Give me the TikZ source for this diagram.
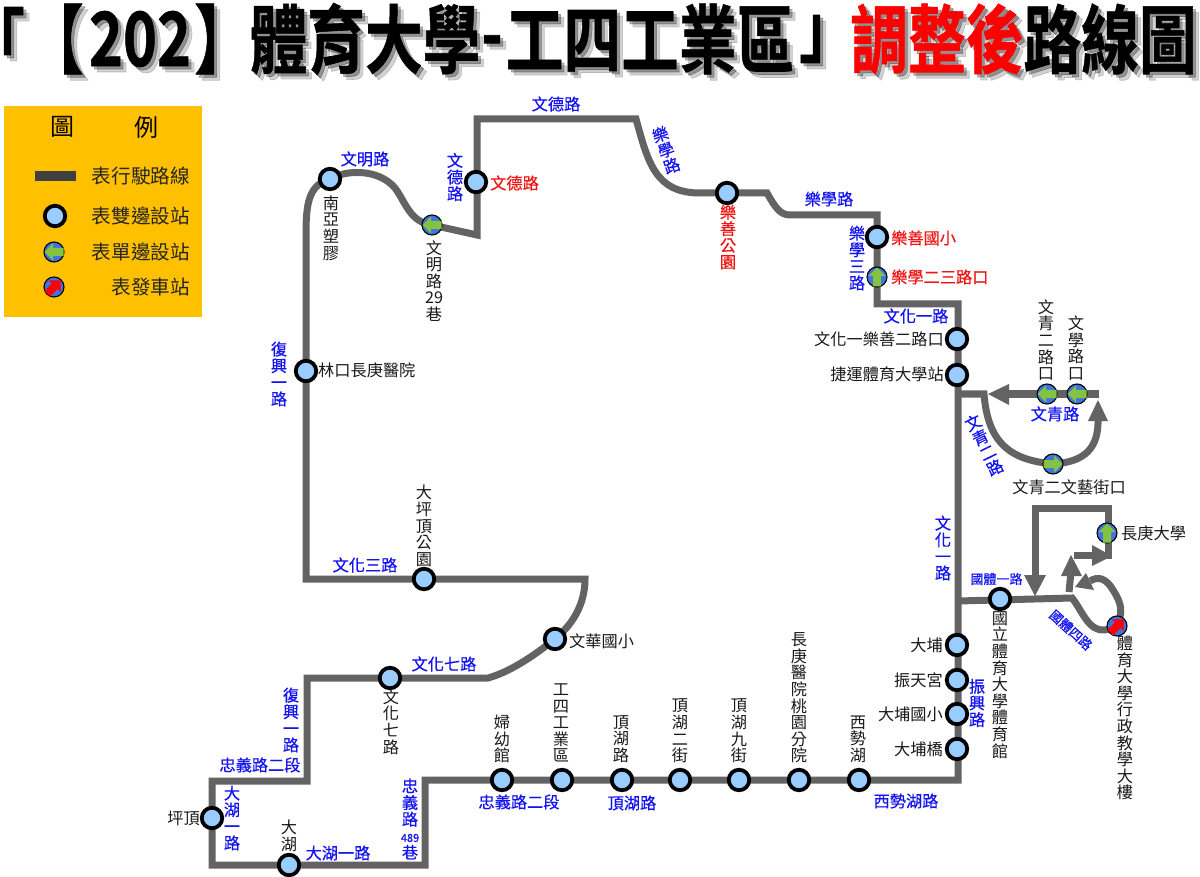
\documentclass[tikz,border=0pt]{standalone}
\usepackage{fontspec}
\usepackage{graphicx}
\usetikzlibrary{backgrounds}
\setmainfont{Noto Sans CJK TC}
\newfontfamily\bluefont[FakeBold=0.5]{Noto Sans CJK TC}
\newfontfamily\titlefont[FakeBold=0.8]{Noto Sans CJK TC Bold}
\definecolor{routegray}{HTML}{636363}
\definecolor{stopfill}{HTML}{99CCFF}
\definecolor{oneblue}{HTML}{3F74E0}
\definecolor{onegreen}{HTML}{84C341}
\definecolor{legendbg}{HTML}{FFC000}
\definecolor{legendline}{HTML}{404040}
\definecolor{roadblue}{HTML}{1414F0}
\definecolor{redlabel}{HTML}{F01414}
\tikzset{
  x=1pt,y=-1pt,
  route/.style={draw=routegray,line width=7pt,line join=miter,line cap=butt},
  stopdot/.style={circle,draw=black,line width=3.8pt,fill=stopfill,minimum size=20.5pt,inner sep=0pt},
  onedot/.style={circle,draw=black,line width=1.1pt,fill=oneblue,minimum size=20pt,inner sep=0pt},
  bk/.style={font=\fontsize{16.2}{16.6}\selectfont,align=center,inner sep=0pt,text=black!90},
  bl/.style={font=\fontsize{16.2}{16.6}\bluefont,align=center,inner sep=0pt,text=roadblue},
  blsm/.style={font=\fontsize{13}{14}\bluefont,align=center,inner sep=0pt,text=roadblue},
  rd/.style={font=\fontsize{16.2}{16.6}\bluefont,align=center,inner sep=0pt,text=redlabel},
  lg/.style={font=\fontsize{19.6}{21}\selectfont,inner sep=0pt,text=black!85},
}
\newcommand{\dirmark}[3]{%
  \begin{scope}[shift={(#1)},rotate=#2]
    \fill[#3] (-9.5pt,0pt)--(-1pt,8.5pt)--(-1pt,4pt)--(9.5pt,4pt)--(9.5pt,-4pt)--(-1pt,-4pt)--(-1pt,-8.5pt)--cycle;
  \end{scope}}
\newcommand{\onestop}[4]{%
  \node[onedot] (#1) at (#2,#3) {};
  \dirmark{#1.center}{#4}{onegreen}}
\newcommand{\ttl}[5]{%
  \node[opacity=.18,inner sep=0pt,text=black] at (#2+6,#3+6) {\titlefont\fontsize{57.7}{60}\selectfont\scalebox{1}[1.3]{#5}};
  \node[opacity=.3,inner sep=0pt,text=black] at (#2+3,#3+3) {\titlefont\fontsize{57.7}{60}\selectfont\scalebox{1}[1.3]{#5}};
  \node[inner sep=0pt,text=#4] (#1) at (#2,#3) {\titlefont\fontsize{57.7}{60}\selectfont\scalebox{1}[1.3]{#5}};}
\begin{document}
\begin{tikzpicture}
\useasboundingbox (0,0) rectangle (1200,877);
% title
\ttl{t1}{-4}{39}{black}{「}
\ttl{t2}{55}{39}{black}{【}
\ttl{t3}{140}{39}{black}{202}
\ttl{t4}{223}{39}{black}{】}
\ttl{t5}{365}{39}{black}{體育大學}
\ttl{t6}{492}{48}{black}{-}
\ttl{t7}{650}{39}{black}{工四工業區}
\ttl{t8}{828}{39}{black}{」}
\ttl{t9}{937}{39}{red}{調整後}
\ttl{t10}{1110}{39}{black}{路線圖}
% legend
\node[fill=legendbg,minimum width=198pt,minimum height=211pt,inner sep=0pt] (legend) at (103,211.5) {};
\node[font=\fontsize{24}{26}\selectfont,inner sep=0pt] (lg1) at (62,127) {圖};
\node[font=\fontsize{24}{26}\selectfont,inner sep=0pt] (lg2) at (146,127) {例};
\coordinate (la) at (35,176); \coordinate (lb) at (76,176);
\draw[legendline,line width=10pt] (la) -- (lb);
\node[lg,anchor=east] (lt1) at (190,176) {表行駛路線};
\node[stopdot] (ls1) at (55,216) {};
\node[lg,anchor=east] (lt2) at (190,216) {表雙邊設站};
\onestop{ls2}{54}{252}{0}
\node[lg,anchor=east] (lt3) at (190,252) {表單邊設站};
\node[onedot] (ls3b) at (54,287) {};
\dirmark{ls3b.center}{-135}{red}
\node[lg,anchor=east] (lt4) at (190,287) {表發車站};
% stations
\node[stopdot] (nanya) at (330,179) {};
\onestop{wm29}{432}{225}{0}
\node[stopdot] (wende) at (476,182) {};
\node[stopdot] (lspark) at (727,193) {};
\node[stopdot] (lsschool) at (877,237) {};
\onestop{lx23}{877}{277}{-90}
\node[stopdot] (wh1) at (957,339) {};
\node[stopdot] (mrt) at (957,375) {};
\onestop{wq2}{1047}{394}{0}
\node[onedot] (wx) at (1077,394) {};
\dirmark{wx.center}{0}{onegreen}
\onestop{wqy}{1053}{464}{180}
\onestop{cgu}{1107}{533}{-90}
\node[onedot] (ntsu) at (1117,626) {};
\dirmark{ntsu.center}{-135}{red}
\node[stopdot] (gym) at (1000,599) {};
\node[stopdot] (dapu) at (957,645) {};
\node[stopdot] (ztg) at (957,680) {};
\node[stopdot] (dpes) at (957,714) {};
\node[stopdot] (dpb) at (957,749) {};
\node[stopdot] (xsh) at (859,780) {};
\node[stopdot] (cgh) at (799,780) {};
\node[stopdot] (dh9) at (739,780) {};
\node[stopdot] (dh2) at (680,780) {};
\node[stopdot] (dhr) at (622,780) {};
\node[stopdot] (g4) at (562,780) {};
\node[stopdot] (fy) at (502,780) {};
\node[stopdot] (dahu) at (289,865) {};
\node[stopdot] (pd) at (212,818) {};
\node[stopdot] (wh7) at (390,678) {};
\node[stopdot] (whs) at (555,639) {};
\node[stopdot] (dpd) at (424,579) {};
\node[stopdot] (lk) at (306,371) {};
% corners
\coordinate (c1) at (958,780);
\coordinate (c2) at (425,780);
\coordinate (c3) at (425,865);
\coordinate (c4) at (212,865);
\coordinate (c5) at (212,781);
\coordinate (c6) at (307,781);
\coordinate (c7) at (307,678);
\coordinate (c8) at (488,678);
\coordinate (c9) at (585,579);
\coordinate (c10) at (306,579);
\coordinate (c11) at (306,235);
\coordinate (c12) at (477,235);
\coordinate (c13) at (477,119);
\coordinate (c14) at (636,119);
\coordinate (c15) at (767,193);
\coordinate (c16) at (790,215);
\coordinate (c17) at (877,215);
\coordinate (c18) at (877,304);
\coordinate (c19) at (958,304);
\coordinate (s1) at (958,394);
\coordinate (s2) at (984,394);
\coordinate (s3) at (1099,394);
\coordinate (s4) at (1005,394);
\coordinate (s5) at (1098,418);
\coordinate (g1) at (958,601);
\coordinate (g2) at (1072,598);
\coordinate (g3) at (1035,508);
\coordinate (g4a) at (1108,508);
\coordinate (g5) at (1108,555);
\coordinate (g6) at (1074,555);
\coordinate (g8) at (1035,578);
\coordinate (g9) at (1069,592);
\coordinate (g10) at (1071,572);
\coordinate (g11) at (1090,581);
\begin{pgfonlayer}{background}
\fill[white] (0,0) rectangle (1200,877);
\draw[route] (c1) -- (c2) -- (c3) -- (c4) -- (c5) -- (c6) -- (c7) -- (c8)
  .. controls (510,672) and (535,655) .. (whs.center)
  .. controls (572,625) and (585,605) .. (c9) -- (c10) -- (c11)
  .. controls (306,205) and (308,185) .. (nanya.center)
  .. controls (345,170) and (378,168) .. (395,188)
  .. controls (406,203) and (410,222) .. (wm29.center) -- (c12) -- (c13) -- (c14)
  .. controls (648,162) and (655,193) .. (700,193) -- (c15)
  .. controls (775,207) and (780,215) .. (c16) -- (c17) -- (c18) -- (c19) -- cycle;
\draw[route] (s1) -- (s2) .. controls (988,445) and (1012,460) .. (wqy.center)
  .. controls (1085,462) and (1099,448) .. (s5);
\draw[route] (s3) -- (s4);
\fill[routegray] (988,394) -- (1009,384) -- (1009,405) -- cycle;
\fill[routegray] (1098,400) -- (1088,421) -- (1108,421) -- cycle;
\draw[route] (g1) -- (g2) .. controls (1085,614) and (1090,640) .. (ntsu.center)
  .. controls (1123,612) and (1122,604) .. (1113,590)
  .. controls (1106,578) and (1098,576) .. (g11);
\fill[routegray] (1075,587) -- (1086,573) -- (1094,590) -- cycle;
\draw[route] (g8) -- (g3) -- (g4a) -- (g5) -- (g6);
\fill[routegray] (1035,596) -- (1024,575) -- (1046,575) -- cycle;
\fill[routegray] (1112,556) -- (1092,545) -- (1092,566) -- cycle;
\draw[route] (g9) -- (g10);
\fill[routegray] (1071,555) -- (1061,576) -- (1082,576) -- cycle;
\end{pgfonlayer}
% black labels
\node[bk] (a1) at (331,228) {南\\亞\\塑\\膠};
\node[bk] (a2) at (434,281) {文\\明\\路\\29\\巷};
\node[bk,anchor=west] (a3) at (318,370) {林口長庚醫院};
\node[bk] (a4) at (424,526) {大\\坪\\頂\\公\\園};
\node[bk,anchor=west] (a5) at (569,641) {文華國小};
\node[bk] (a6) at (391,722) {文\\化\\七\\路};
\node[bk,anchor=east] (a7) at (200,818) {坪頂};
\node[bk] (a8) at (289,836) {大\\湖};
\node[bk] (a9) at (502,739) {婦\\幼\\館};
\node[bk] (a10) at (561,723) {工\\四\\工\\業\\區};
\node[bk] (a11) at (621,739) {頂\\湖\\路};
\node[bk] (a12) at (680,731) {頂\\湖\\二\\街};
\node[bk] (a13) at (739,731) {頂\\湖\\九\\街};
\node[bk] (a14) at (799,698) {長\\庚\\醫\\院\\桃\\園\\分\\院};
\node[bk] (a15) at (858,739) {西\\勢\\湖};
\node[bk,anchor=east] (a16) at (943,645) {大埔};
\node[bk,anchor=east] (a17) at (943,680) {振天宮};
\node[bk,anchor=east] (a18) at (943,714) {大埔國小};
\node[bk,anchor=east] (a19) at (943,749) {大埔橋};
\node[bk,anchor=east] (a20) at (944,339) {文化一樂善二路口};
\node[bk,anchor=east] (a21) at (944,374) {捷運體育大學站};
\node[bk] (a22) at (1046,340) {文\\青\\二\\路\\口};
\node[bk] (a23) at (1076,348) {文\\學\\路\\口};
\node[bk] (a24) at (1069,487) {文青二文藝街口};
\node[bk,anchor=west] (a25) at (1121,533) {長庚大學};
\node[bk] (a26) at (1000,685) {國\\立\\體\\育\\大\\學\\體\\育\\館};
\node[bk] (a27) at (1125,718) {體\\育\\大\\學\\行\\政\\教\\學\\大\\樓};
% blue labels
\node[bl] (b1) at (556,104) {文德路};
\node[bl] (b2) at (365,159) {文明路};
\node[bl] (b3) at (455,177) {文\\德\\路};
\node[bl,rotate=20] (b4) at (666,150) {樂\\學\\路};
\node[bl] (b5) at (829,199) {樂學路};
\node[bl] (b6) at (857,258) {樂\\學\\三\\路};
\node[bl] (b7) at (916,316) {文化一路};
\node[bl] (b8) at (279,374) {復\\興\\一\\路};
\node[bl] (b9) at (365,565) {文化三路};
\node[bl] (b10) at (444,664) {文化七路};
\node[bl] (b11) at (291,720) {復\\興\\一\\路};
\node[bl] (b12) at (260,765) {忠義路二段};
\node[bl] (b13) at (232,818) {大\\湖\\一\\路};
\node[bl] (b14) at (338,853) {大湖一路};
\node[bl] (b15) at (410,819) {忠\\義\\路\\{\fontsize{11}{12}\bluefont 489}\\巷};
\node[bl] (b16) at (519,802) {忠義路二段};
\node[bl] (b17) at (632,803) {頂湖路};
\node[bl] (b18) at (906,801) {西勢湖路};
\node[bl] (b19) at (977,703) {振\\興\\路};
\node[bl] (b20) at (943,548) {文\\化\\一\\路};
\node[blsm] (b21) at (996.5,579) {國體一路};
\node[blsm,rotate=-42] (b22) at (1071,630) {國體四路};
\node[bl] (b23) at (1055,414) {文青路};
\node[bl,rotate=26] (b24) at (984,445) {文\\青\\二\\路};
% red labels
\node[rd,anchor=west] (r1) at (490,183) {文德路};
\node[rd] (r2) at (728,237) {樂\\善\\公\\園};
\node[rd,anchor=west] (r3) at (891,238) {樂善國小};
\node[rd,anchor=west] (r4) at (891,277) {樂學二三路口};
\end{tikzpicture}
\end{document}
